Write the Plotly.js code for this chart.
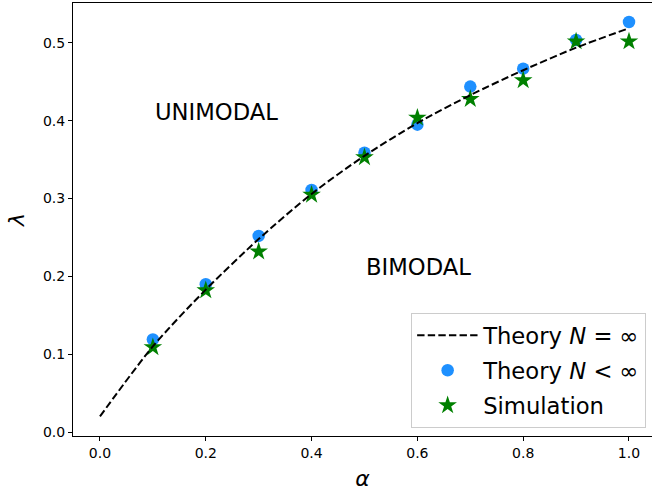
<!DOCTYPE html>
<html>
<head>
<meta charset="utf-8">
<script src="https://cdn.plot.ly/plotly-3.0.1.min.js"></script>
<style>
  html, body { margin: 0; padding: 0; background: #ffffff; }
  #chart { width: 652px; height: 493px; }
</style>
</head>
<body>
<div id="chart"></div>
<script>
// Critical λ as a function of α: infinite-N theory curve,
// finite-N theory points and simulation points.
const alphaCurve = [0.0, 0.1, 0.2, 0.3, 0.4, 0.5, 0.6, 0.7, 0.8, 0.9, 1.0];
const lambdaCurve = [0.020, 0.110, 0.183, 0.248, 0.306, 0.355, 0.397, 0.433, 0.465, 0.494, 0.519];

const alphaPoints = [0.1, 0.2, 0.3, 0.4, 0.5, 0.6, 0.7, 0.8, 0.9, 1.0];
const lambdaTheoryFinite = [0.119, 0.190, 0.252, 0.311, 0.359, 0.395, 0.444, 0.467, 0.504, 0.527];
const lambdaSimulation = [0.109, 0.182, 0.232, 0.305, 0.353, 0.404, 0.428, 0.452, 0.502, 0.502];

const xTicks = [0.0, 0.2, 0.4, 0.6, 0.8, 1.0];
const xTickText = ['0.0', '0.2', '0.4', '0.6', '0.8', '1.0'];
const yTicks = [0.0, 0.1, 0.2, 0.3, 0.4, 0.5];
const yTickText = ['0.0', '0.1', '0.2', '0.3', '0.4', '0.5'];

const FONT = '"DejaVu Sans", "Liberation Sans", sans-serif';

const traces = [
  {
    x: alphaPoints, y: lambdaTheoryFinite,
    type: 'scatter', mode: 'markers',
    name: 'Theory <i>N</i> &lt; ∞',
    legendrank: 2, legendgroup: 'b',
    marker: { symbol: 'circle', size: 12.5, color: '#1e90ff', line: { width: 0 } }
  },
  {
    x: alphaPoints, y: lambdaSimulation,
    type: 'scatter', mode: 'markers',
    name: 'Simulation',
    legendrank: 3, legendgroup: 'c',
    marker: { symbol: 'star', size: 14, color: '#008000', line: { width: 0 } }
  },
  {
    x: alphaCurve, y: lambdaCurve,
    type: 'scatter', mode: 'lines',
    name: 'Theory <i>N</i> = ∞',
    legendrank: 1, legendgroup: 'a',
    line: { color: '#000000', width: 2, dash: '7.4px,3.2px', shape: 'spline', smoothing: 0.8 }
  }
];

const layout = {
  width: 652, height: 493,
  margin: { l: 73, r: 0, t: 3, b: 57 },
  paper_bgcolor: '#ffffff', plot_bgcolor: '#ffffff',
  font: { family: FONT, color: '#000000', size: 14 },
  showlegend: true,
  legend: {
    x: 0.584, y: 0.284, xanchor: 'left', yanchor: 'top',
    bgcolor: 'rgba(255,255,255,0.8)',
    bordercolor: '#cccccc', borderwidth: 1,
    font: { family: FONT, size: 22.7, color: '#000000' },
    itemwidth: 61,
    tracegroupgap: 2.5
  },
  xaxis: {
    range: [-0.051, 1.0435],
    showgrid: false, zeroline: false,
    showline: true, linecolor: '#000000', linewidth: 1, mirror: true,
    ticks: 'outside', ticklen: 4, tickwidth: 1, tickcolor: '#000000',
    tickvals: xTicks, ticktext: xTickText,
    tickfont: { family: FONT, size: 14 },
    title: { text: '<i>α</i>', font: { family: FONT, size: 22 }, standoff: 10 }
  },
  yaxis: {
    range: [-0.00514, 0.5514],
    showgrid: false, zeroline: false,
    showline: true, linecolor: '#000000', linewidth: 1, mirror: false,
    ticks: 'outside', ticklen: 4, tickwidth: 1, tickcolor: '#000000',
    tickvals: yTicks, ticktext: yTickText,
    tickfont: { family: FONT, size: 14 },
    title: { text: '<i>λ</i>', font: { family: FONT, size: 22 }, standoff: 12 }
  },
  annotations: [
    {
      x: 0.1, y: 0.4, xref: 'x', yref: 'y',
      xanchor: 'left', yanchor: 'bottom', yshift: -6,
      text: 'UNIMODAL', showarrow: false,
      font: { family: FONT, size: 22.7, color: '#000000' }
    },
    {
      x: 0.5, y: 0.2, xref: 'x', yref: 'y',
      xanchor: 'left', yanchor: 'bottom', yshift: -6,
      text: 'BIMODAL', showarrow: false,
      font: { family: FONT, size: 22.7, color: '#000000' }
    }
  ]
};

Plotly.newPlot('chart', traces, layout, { displayModeBar: false, staticPlot: true });
</script>
</body>
</html>
